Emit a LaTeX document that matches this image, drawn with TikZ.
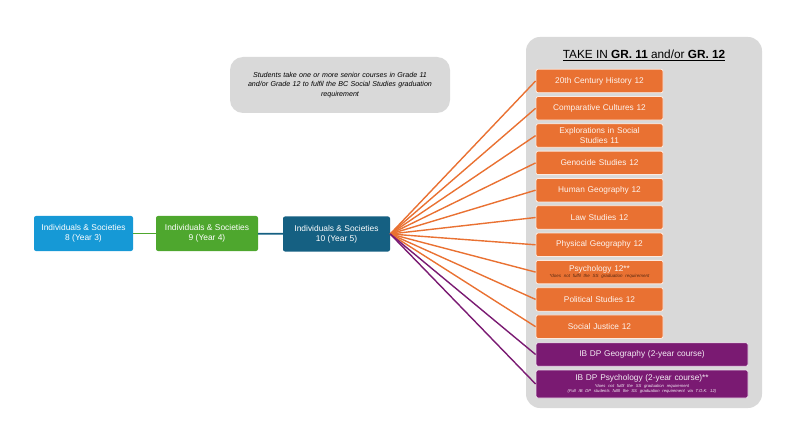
\documentclass[tikz,border=0pt]{standalone}
\usepackage{fontspec}
\setmainfont{Liberation Sans}
\usepackage{tikz}
\definecolor{skyblue}{HTML}{1699D6}
\definecolor{leafgreen}{HTML}{4EA72E}
\definecolor{deepblue}{HTML}{156082}
\definecolor{courseorange}{HTML}{E97132}
\definecolor{ibpurple}{HTML}{7A1A72}
\definecolor{panelgray}{HTML}{D9D9D9}
\tikzset{
  yearbox/.style={rounded corners=2pt, text=white, minimum width=99pt, minimum height=35pt, align=center, font=\fontsize{8.4}{9.8}\selectfont},
  course/.style={fill=courseorange, draw=white!85!courseorange, line width=0.8pt, rounded corners=2pt, text=white!92!courseorange, minimum width=127pt, minimum height=23.5pt, text width=120pt, align=center, inner sep=1pt, font=\fontsize{8.3}{9.4}\selectfont},
  ibcourse/.style={course, fill=ibpurple, draw=white!85!ibpurple, text=white!92!ibpurple, minimum width=212pt, text width=205pt},
  orangeline/.style={courseorange, line width=1.4pt},
  purpleline/.style={ibpurple, line width=1.4pt},
}
\begin{document}
\begin{tikzpicture}[x=1pt,y=-1pt]
\useasboundingbox (0,0) rectangle (794,430);
% panel and note
\fill[panelgray, rounded corners=14pt] (526,37) rectangle (762,408);
\node[font=\fontsize{11.8}{14}\selectfont] (title) at (644,55) {\underline{TAKE IN \textbf{GR. 11} and/or \textbf{GR. 12}}};
\node[fill=panelgray, rounded corners=13pt, minimum width=220pt, minimum height=56pt, text width=205pt, align=center, font=\fontsize{7.1}{9.6}\selectfont\itshape] (note) at (340,85) {Students take one or more senior courses in Grade 11\\and/or Grade 12 to fulfil the BC Social Studies graduation\\requirement};
% year boxes
\node[yearbox, fill=skyblue] (y8) at (83.5,233.5) {Individuals \& Societies\\8 (Year 3)};
\node[yearbox, fill=leafgreen, minimum width=102pt] (y9) at (207,233.5) {Individuals \& Societies\\9 (Year 4)};
\node[yearbox, fill=deepblue, minimum width=107pt] (y10) at (336.5,234) {Individuals \& Societies\\10 (Year 5)};
\draw[leafgreen, line width=1.8pt] (y8) -- (y9);
\draw[deepblue, line width=1.8pt] (y9) -- (y10);
% courses
\node[course] (c1) at (599.5,81) {20th Century History 12};
\node[course] (c2) at (599.5,108.3) {Comparative Cultures 12};
\node[course] (c3) at (599.5,135.6) {Explorations in Social\\Studies 11};
\node[course] (c4) at (599.5,162.9) {Genocide Studies 12};
\node[course] (c5) at (599.5,190.2) {Human Geography 12};
\node[course] (c6) at (599.5,217.5) {Law Studies 12};
\node[course] (c7) at (599.5,244.8) {Physical Geography 12};
\node[course] (c8) at (599.5,272.1) {Psychology 12**\par\vspace{1.2pt}{\fontsize{4.5}{5}\selectfont\itshape\color{black!65!courseorange}*does not fulfil the SS graduation requirement\par}};
\node[course] (c9) at (599.5,299.4) {Political Studies 12};
\node[course] (c10) at (599.5,326.7) {Social Justice 12};
\node[ibcourse] (ib1) at (642,354.5) {IB DP Geography (2-year course)};
\node[ibcourse, minimum height=28pt] (ib2) at (642,384) {IB DP Psychology (2-year course)**\par\vspace{1.2pt}{\fontsize{4.2}{5}\selectfont\itshape *does not fulfil the SS graduation requirement\\(Full IB DP students fulfil the SS graduation requirement via T.O.K. 12)\par}};
% fan
\foreach \c in {c1,c2,c3,c4,c5,c6,c7,c8,c9,c10}
  \draw[orangeline] (y10.east) -- (\c.west);
\draw[purpleline] (y10.east) -- (ib1.west);
\draw[purpleline] (y10.east) -- (ib2.west);
\end{tikzpicture}
\end{document}
